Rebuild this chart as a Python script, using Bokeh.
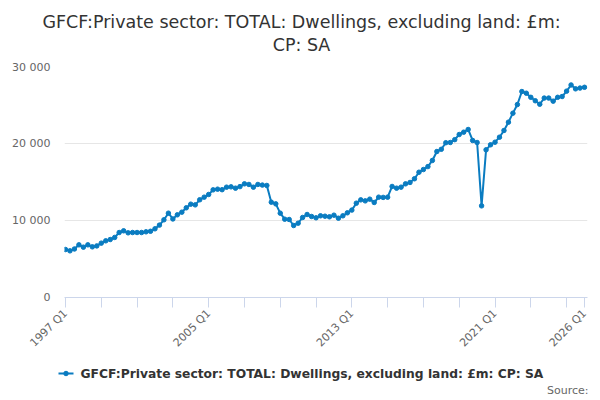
import math
from bokeh.plotting import figure
from bokeh.layouts import column
from bokeh.core.properties import value
from bokeh.models import ColumnDataSource, Range1d, FixedTicker, CustomJSTickFormatter
from bokeh.embed import file_html
from bokeh.resources import INLINE

# GFCF private sector dwellings, quarterly, 1997 Q1 .. 2026 Q1 (£m)
quarters = [f"{1997 + i // 4} Q{i % 4 + 1}" for i in range(117)]
values = [
    6230, 6060, 6300, 6840, 6540, 6840, 6580, 6700,
    7060, 7360, 7530, 7800, 8440, 8660, 8400, 8440,
    8440, 8440, 8530, 8600, 8920, 9400, 10090, 10950,
    10200, 10740, 11080, 11650, 12120, 12030, 12690, 13030,
    13380, 13980, 14070, 14000, 14330, 14370, 14200, 14400,
    14760, 14680, 14330, 14680, 14600, 14550, 12380, 12160,
    10950, 10170, 10130, 9350, 9650, 10390, 10780, 10520,
    10350, 10610, 10560, 10480, 10690, 10300, 10610, 11000,
    11350, 12250, 12680, 12550, 12770, 12340, 13030, 13000,
    13030, 14420, 14200, 14330, 14760, 14940, 15420, 16270,
    16620, 17000, 17800, 18960, 19250, 20100, 20130, 20500,
    21170, 21470, 21820, 20390, 20130, 11900, 19180, 19830,
    20170, 20820, 21690, 22770, 23940, 25060, 26750, 26530,
    26000, 25550, 25100, 25900, 25900, 25500, 26000, 26100,
    26800, 27600, 27100, 27200, 27300,
]
tick_pos = list(range(0, 113, 8)) + [116]
label_pos = [0, 32, 64, 96, 116]
y_ticks = [0, 10000, 20000, 30000]

series_name = "GFCF:Private sector: TOTAL: Dwellings, excluding land: £m: CP: SA"
title_lines = ["GFCF:Private sector: TOTAL: Dwellings, excluding land: £m:", "CP: SA"]
source_note = "Source:"

BLUE = "#0a7cc1"
FONT = "DejaVu Sans"
W = 600


def strip(h):
    # plain canvas strip measured in pixels from its top-left corner
    s = figure(frame_width=W, frame_height=h, output_backend="svg", toolbar_location=None,
               x_range=Range1d(0, W), y_range=Range1d(h, 0),
               min_border_left=0, min_border_right=0, min_border_top=0,
               min_border_bottom=0, x_axis_type=None, y_axis_type=None,
               frame_align=False)
    s.outline_line_color = None
    s.grid.visible = False
    return s


# header: two-line title
head = strip(60)
head.text(x=[301, 301], y=[21, 44], text=title_lines, text_align="center",
          text_baseline="middle", text_font=value(FONT), text_font_size="17.5px",
          text_color="#333333")

# main chart
src = ColumnDataSource(dict(x=list(range(len(values))), y=values, q=quarters))

fig = figure(frame_width=523, frame_height=231, output_backend="svg", toolbar_location=None,
             x_range=Range1d(-0.22, 116.67), y_range=Range1d(0, 30000),
             min_border_left=64, min_border_right=13, min_border_top=6,
             min_border_bottom=60, frame_align=False)
fig.outline_line_color = None

fig.line("x", "y", source=src, line_color=BLUE, line_width=2)
fig.scatter("x", "y", source=src, size=4.5, fill_color=BLUE, line_color=BLUE)

# x axis: ticks every two years, labels every eight
fig.xaxis.ticker = FixedTicker(ticks=tick_pos)
fig.xaxis.major_label_overrides = {t: (quarters[t] if t in label_pos else "") for t in tick_pos}
fig.xaxis.major_label_orientation = math.pi / 4
fig.xaxis.axis_line_color = "#ccd6eb"
fig.xaxis.major_tick_line_color = "#ccd6eb"
fig.xaxis.major_tick_out = 10
fig.xaxis.major_tick_in = 0
fig.xaxis.minor_tick_line_color = None
fig.xaxis.major_label_text_font = FONT
fig.xaxis.major_label_text_font_size = "11px"
fig.xaxis.major_label_text_color = "#666666"
fig.xaxis.major_label_standoff = 4
fig.xgrid.grid_line_color = None

# y axis: no line, thin grid
fig.yaxis.ticker = FixedTicker(ticks=y_ticks)
fig.yaxis.formatter = CustomJSTickFormatter(
    code="return tick.toFixed(0).replace(/\\B(?=(\\d{3})+(?!\\d))/g, ' ');")
fig.yaxis.axis_line_color = None
fig.yaxis.major_tick_line_color = None
fig.yaxis.minor_tick_line_color = None
fig.yaxis.major_label_text_font = FONT
fig.yaxis.major_label_text_font_size = "11px"
fig.yaxis.major_label_text_color = "#666666"
fig.yaxis.major_label_standoff = 8
fig.ygrid.grid_line_color = "#e6e6e6"
fig.ygrid.ticker = FixedTicker(ticks=y_ticks)

# footer: legend entry and source note
foot = strip(43)
foot.line(x=[58, 73], y=[16, 16], line_color=BLUE, line_width=2)
foot.scatter(x=[65.5], y=[16], size=4.5, fill_color=BLUE, line_color=BLUE)
foot.text(x=[80], y=[16], text=[source_note and series_name], text_align="left",
          text_baseline="middle", text_font=value(FONT), text_font_size="12.3px",
          text_font_style="bold", text_color="#333333")
foot.text(x=[588], y=[33], text=[source_note], text_align="right", text_baseline="middle",
          text_font=value(FONT), text_font_size="11px", text_color="#666666")

p = column(head, fig, foot, spacing=0)

open("out.html", "w").write(file_html(p, INLINE))
